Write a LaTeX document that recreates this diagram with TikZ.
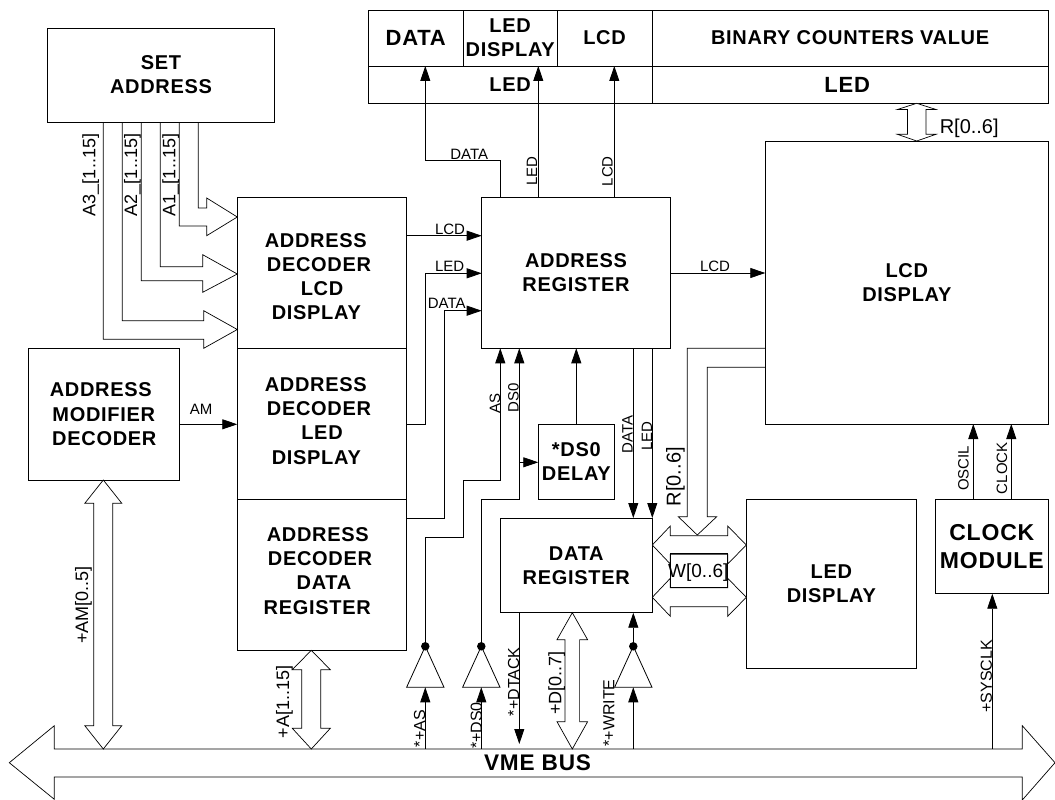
\documentclass[tikz,border=0pt]{standalone}
\usepackage{fontspec}
\setmainfont{Liberation Sans}
\newfontfamily\capsfont[LetterSpace=3.5]{Liberation Sans}
\usetikzlibrary{
  arrows.meta,
  positioning
}
\tikzset{
  caps/.style={
    font=\capsfont\bfseries\fontsize{#1}{1.21\dimexpr #1pt\relax}\selectfont,
    align=center, inner sep=0pt, outer sep=0pt
  },
  caps/.default=20,
  block/.style={
    rectangle, draw=black, line width=0.8pt, fill=white,
    caps, minimum width=#1
  },
  sig/.style={
    font=\fontsize{#1}{#1}\selectfont,
    inner sep=0pt, outer sep=0pt,
    text height={0.72*#1pt}, text depth=0pt
  },
  sig/.default=15,
  sigv/.style={sig=#1, rotate=90},
  sigv/.default=15,
  wire/.style={line width=0.8pt},
  arr/.style={wire, -{Triangle[length=15pt,width=10pt]}},
  blockarr/.style={line width=0.7pt, draw=black, fill=white, line join=miter},
  bufdot/.style={circle, fill=black, inner sep=0pt, minimum size=8.5pt}
}
\begin{document}
\begin{tikzpicture}[x=1pt,y=-1pt]

    \useasboundingbox (0,0) rectangle (1055,800);

    %% VME bus
    \draw[blockarr] (9.3,762.7)--(54.3,725.7)--(54.3,749)--(1022.3,749)--(1022.3,725.7)
      --(1055,762.7)--(1022.3,800)--(1022.3,777)--(54.3,777)--(54.3,799.3)--cycle;
    \node[caps=22.6] (vmebus) at (537.5,762.7) {VME BUS};

    %% Status panel
    \node[block=95pt, minimum height=56pt, caps=22] (pdata) at (415.8,38) {DATA};
    \node[block=93.7pt, minimum height=56pt, caps=20] (pdisp) at (510.15,38) {LED\\DISPLAY};
    \node[block=95pt, minimum height=56pt] (plcd) at (604.5,38) {LCD};
    \node[block=396.3pt, minimum height=56pt] (pbin) at (850.15,38) {BINARY COUNTERS VALUE};
    \node[block=283.7pt, minimum height=37pt] (pled) at (510.15,84.5) {LED};
    \node[block=396.3pt, minimum height=37pt, caps=22] (pledb) at (850.15,84.5) {\hspace*{-6pt}LED};

    %% Main blocks
    \node[block=227.4pt, minimum height=94pt] (setaddr) at (161,75) {SET\\ADDRESS};
    \node[block=151pt, minimum height=131.7pt] (amd) at (103.8,414.2)
      {\hspace*{-6pt}ADDRESS\\MODIFIER\\\hspace*{1pt}DECODER};
    \node[block=169.4pt, minimum height=150.6pt] (dec1) at (322,273) {};
    \node[block=169.4pt, minimum height=150.7pt] (dec2) at (322,423.65) {};
    \node[block=169.4pt, minimum height=151.3pt] (dec3) at (322,574.65) {};
    \node[caps] (dec1txt) at (319,276.5)
      {\hspace*{-6.4pt}ADDRESS\\DECODER\\\hspace*{6pt}LCD\\\hspace*{-5.4pt}DISPLAY};
    \node[caps] (dec2txt) at (319,421)
      {\hspace*{-6.4pt}ADDRESS\\DECODER\\\hspace*{6pt}LED\\\hspace*{-5.4pt}DISPLAY};
    \node[caps] (dec3txt) at (320,571)
      {\hspace*{-4.4pt}ADDRESS\\DECODER\\\hspace*{8pt}DATA\\\hspace*{-5.6pt}REGISTER};
    \node[block=188.6pt, minimum height=150.6pt] (areg) at (576,273) {ADDRESS\\REGISTER};
    \node[block=283pt, minimum height=283pt] (lcd) at (906.8,282.5) {LCD\\DISPLAY};
    \node[block=152pt, minimum height=94.7pt] (dreg) at (576.3,565.35) {DATA\\REGISTER};
    \node[block=76pt, minimum height=74.7pt] (delay) at (576.3,461.65) {*DS0\\DELAY};
    \node[block=170pt, minimum height=169.3pt] (leddisp) at (831.3,583.65) {LED\\DISPLAY};
    \node[block=113pt, minimum height=94.7pt, caps=23] (clock) at (991.8,546.35) {CLOCK\\MODULE};

    %% Feeds from the address switches
    \foreach \xa/\xb/\ya/\yb/\bx/\hu/\hm/\hd in {
      179.3/198.3/226/208/206.7/198/217/235.7,
      141.3/160.3/280.7/266.7/202.7/254.7/274/292.3,
      103.3/122.3/339.3/320.7/203.7/310.7/329.5/348.3}{
      \draw[blockarr, fill=none] (setaddr.south -| \xa,0)--(\xa,\ya)--(\bx,\ya)--(\bx,\hd)
        --(dec1.west |- 0,\hm)--(\bx,\hu)--(\bx,\yb)--(\xb,\yb)--(setaddr.south -| \xb,0);
    }

    %% Vertical bus arrows
    \foreach \cx/\ta/\tb/\ba/\bb/\hb/\hh in {
      103.3/480/503.3/725.7/749/9.5/18.5,
      311.3/650.3/669.7/728.3/749/9.5/19,
      572.3/612.7/639.7/721.7/749/7.3/15.3,
      916.7/103.3/109.5/134.3/141/9.2/19.3}{
      \draw[blockarr] (\cx,\ta)--(\cx+\hh,\tb)--(\cx+\hb,\tb)--(\cx+\hb,\ba)--(\cx+\hh,\ba)
        --(\cx,\bb)--(\cx-\hh,\ba)--(\cx-\hb,\ba)--(\cx-\hb,\tb)--(\cx-\hh,\tb)--cycle;
    }

    %% Horizontal bus arrows
    \foreach \cy/\hh/\hb in {545/19/9.35,597.3/19/9.5}{
      \draw[blockarr] (dreg.east |- 0,\cy)--(670.3,\cy-\hh)--(670.3,\cy-\hb)--(727.7,\cy-\hb)
        --(727.7,\cy-\hh)--(leddisp.west |- 0,\cy)--(727.7,\cy+\hh)--(727.7,\cy+\hb)
        --(670.3,\cy+\hb)--(670.3,\cy+\hh)--cycle;
    }
    \draw[wire] (670.3,553.7) rectangle (727.7,587.7);

    %% Read bus out of the display
    \draw[blockarr, fill=none] (lcd.west |- 0,348.3)--(687.3,348.3)--(687.3,516.7)--(678.3,516.7)
      --(697.3,535)--(716.7,516.7)--(707.3,516.7)--(707.3,367.3)--(lcd.west |- 0,367.3);

    %% Buffers
    \foreach \n/\cx in {1/425.3,2/481.3,3/633.3}{
      \coordinate (busin\n) at (\cx,749);
      \coordinate (bufin\n) at (\cx,687.3);
      \node[bufdot] (bufout\n) at (\cx,646.3) {};
      \draw[wire] (bufout\n.center)--(\cx+18.7,687.3)--(\cx-18.7,687.3)--cycle;
      \draw[arr] (busin\n)--(bufin\n);
    }

    %% Signals
    \draw[arr] (areg.north -| 500.3,0)--(500.3,160)--(425.3,160)--(pled.north -| 425.3,0);
    \draw[arr] (areg.north -| 538.3,0)--(pled.north -| 538.3,0);
    \draw[arr] (areg.north -| 614.3,0)--(pled.north -| 614.3,0);
    \draw[arr] (dec1.east |- 0,235.7)--(areg.west |- 0,235.7);
    \draw[arr] (dec2.east |- 0,424.3)--(425.3,424.3)--(425.3,273.3)--(areg.west |- 0,273.3);
    \draw[arr] (dec3.east |- 0,518)--(444.3,518)--(444.3,310.7)--(areg.west |- 0,310.7);
    \draw[arr] (areg.east)--(lcd.west |- areg.east);
    \draw[arr] (amd.east |- 0,424.3)--(dec2.west |- 0,424.3);
    \draw[arr] (bufout1)--(425.3,537)--(463.3,537)--(463.3,480)--(500.3,480)--(areg.south -| 500.3,0);
    \draw[arr] (bufout2)--(481.3,499)--(519.3,499)--(areg.south -| 519.3,0);
    \draw[arr] (519.3,462.3)--(delay.west |- 0,462.3);
    \draw[arr] (delay.north)--(areg.south -| delay.north);
    \draw[arr] (areg.south -| 633.3,0)--(dreg.north -| 633.3,0);
    \draw[arr] (areg.south -| 652.3,0)--(dreg.north -| 652.3,0);
    \draw[arr] (bufout3)--(dreg.south -| 633.3,0);
    \draw[arr] (dreg.south -| 519.3,0)--(519.3,744);
    \draw[arr] (clock.north -| 973.3,0)--(lcd.south -| 973.3,0);
    \draw[arr] (clock.north -| 1011.3,0)--(lcd.south -| 1011.3,0);
    \draw[arr] (992.3,749)--(clock.south -| 992.3,0);

    %% Labels
    \node[sig] (ldata) at (469.3,153.7) {DATA};
    \node[sigv] (lled) at (531.7,171.3) {LED};
    \node[sigv] (llcd) at (607.3,171.3) {LCD};
    \node[sig] (llcda) at (450,229) {LCD};
    \node[sig] (lleda) at (449.7,266.3) {LED};
    \node[sig] (ldataa) at (446.7,303) {DATA};
    \node[sig] (llcdb) at (715,266.3) {LCD};
    \node[sig] (lam) at (201,409.5) {AM};
    \node[sigv] (las) at (494.7,403) {AS};
    \node[sigv] (lds) at (513.3,398) {DS0};
    \node[sigv] (ldatab) at (627.3,434.7) {DATA};
    \node[sigv] (lledb) at (646.7,436.3) {LED};
    \node[sigv] (losc) at (963.3,468.3) {OSCIL};
    \node[sigv] (lclk) at (1001.7,468.3) {CLOCK};
    \node[sigv=18] (la3) at (89,175) {A3\_[1..15]};
    \node[sigv=18] (la2) at (130.7,175) {A2\_[1..15]};
    \node[sigv=18] (la1) at (169,175) {A1\_[1..15]};
    \node[sigv=18] (lamb) at (81.7,605) {+AM[0..5]};
    \node[sigv=18] (labus) at (282.7,702) {+A[1..15]};
    \node[sigv=18] (ldbus) at (555,683) {+D[0..7]};
    \node[sigv=16] (lsas) at (419.3,728.7) {*+AS};
    \node[sigv=16] (lsds) at (476,725.5) {*+DS0};
    \node[sigv=16] (lsdt) at (513.3,681.7) {*+DTACK};
    \node[sigv=16] (lswr) at (608.7,713) {*+WRITE};
    \node[sigv=16] (lsys) at (986,676.2) {+SYSCLK};
    \node[sigv=20] (lrr) at (673.3,476.7) {R[0..6]};
    \node[sig=19] (lww) at (698.3,570.7) {W[0..6]};
    \node[sig=20] (lrt) at (969.2,126) {R[0..6]};

\end{tikzpicture}
\end{document}
